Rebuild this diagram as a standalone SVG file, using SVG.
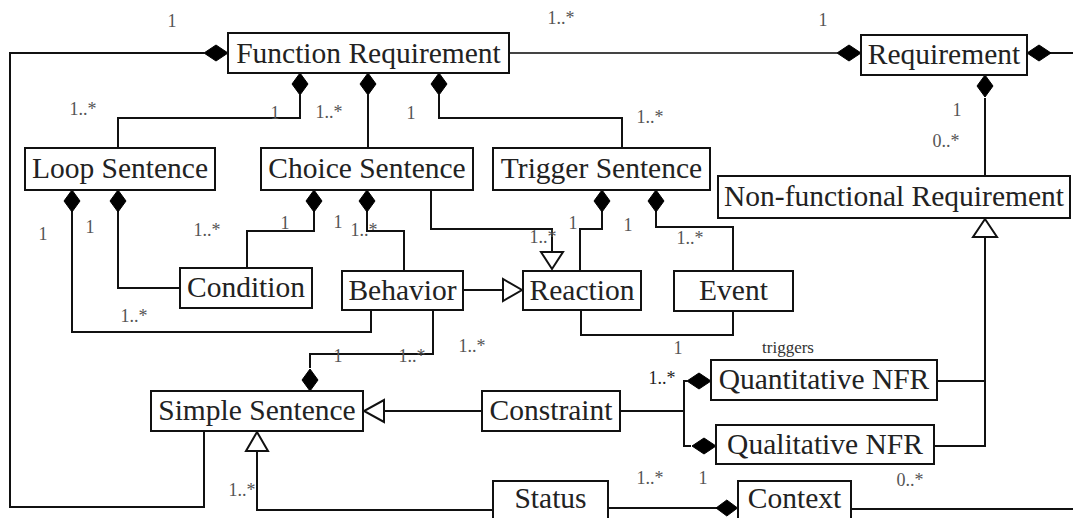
<svg xmlns="http://www.w3.org/2000/svg" width="1073" height="518" viewBox="0 0 1073 518">
<style>
.box{fill:#fff;stroke:#111;stroke-width:2}
.t{font-family:"Liberation Serif","Times New Roman",serif;font-size:29.5px;fill:#222;text-anchor:middle}
.l{font-family:"Liberation Serif","Times New Roman",serif;font-size:18px;fill:#555;text-anchor:middle}
.c{fill:none;stroke:#111;stroke-width:2}
.d{fill:#000;stroke:#000;stroke-width:1}
.h{fill:#fff;stroke:#111;stroke-width:2}
</style>
<defs>
<path id="dv" d="M0,0 L8,11 L0,22 L-8,11 Z"/>
<path id="dh" d="M0,0 L12,-8 L24,0 L12,8 Z"/>
</defs>
<rect width="1073" height="518" fill="#fff"/>
<g id="connectors">
<polyline class="c" points="204,53 10,53 10,507 204,507 204,431"/>
<polyline class="c" points="300,95 300,118 118,118 118,148"/>
<polyline class="c" points="368,95 368,148"/>
<polyline class="c" points="439,95 439,118 622,118 622,148"/>
<polyline class="c" points="509,53 837,53" style="stroke:#444"/>
<polyline class="c" points="1049,53 1073,53"/>
<polyline class="c" points="985,98 985,176"/>
<polyline class="c" points="72,211 72,332 371,332 371,310"/>
<polyline class="c" points="118,211 118,288 180,288"/>
<polyline class="c" points="314,211 314,231 247,231 247,268"/>
<polyline class="c" points="367,211 367,231 404,231 404,271"/>
<polyline class="c" points="431,190 431,229 552,229 552,252"/>
<polyline class="c" points="463,290 503,290"/>
<polyline class="c" points="602,211 602,229 580,229 580,271"/>
<polyline class="c" points="656,211 656,227 733,227 733,271"/>
<polyline class="c" points="581,310 581,335 733,335 733,311"/>
<polyline class="c" points="433,310 433,354 310,354 310,368"/>
<polyline class="c" points="482,411 384,411"/>
<polyline class="c" points="493,510 257,510 257,451"/>
<polyline class="c" points="620,411 684,411"/>
<polyline class="c" points="687,381 684,381 684,446 691,446"/>
<polyline class="c" points="937,381 985,381"/>
<polyline class="c" points="934,446 985,446 985,237"/>
<polyline class="c" points="608,508 718,508"/>
<polyline class="c" points="851,509 1073,509"/>
<use href="#dh" class="d" transform="translate(204,53)"/>
<use href="#dh" class="d" transform="translate(837,53)"/>
<use href="#dh" class="d" transform="translate(1027,53)"/>
<use href="#dh" class="d" transform="translate(687,381)"/>
<use href="#dh" class="d" transform="translate(692,446)"/>
<use href="#dh" class="d" transform="translate(716,508) scale(0.9,1)"/>
<use href="#dv" class="d" transform="translate(300,73)"/>
<use href="#dv" class="d" transform="translate(368,73)"/>
<use href="#dv" class="d" transform="translate(439,73)"/>
<use href="#dv" class="d" transform="translate(985,75)"/>
<use href="#dv" class="d" transform="translate(72,190)"/>
<use href="#dv" class="d" transform="translate(118,190)"/>
<use href="#dv" class="d" transform="translate(314,190)"/>
<use href="#dv" class="d" transform="translate(367,190)"/>
<use href="#dv" class="d" transform="translate(602,190)"/>
<use href="#dv" class="d" transform="translate(656,190)"/>
<use href="#dv" class="d" transform="translate(310,369)"/>
<path class="h" d="M541,252 L563,252 L552,269 Z"/>
<path class="h" d="M503,279 L503,301 L522,290 Z"/>
<path class="h" d="M384,400 L384,422 L364,411 Z"/>
<path class="h" d="M246,451 L268,451 L257,432 Z"/>
<path class="h" d="M973,237 L997,237 L985,219 Z"/>
</g>
<g id="n-function-requirement"><rect class="box" x="228" y="33" width="281" height="40"/><text class="t" x="368.5" y="63">Function Requirement</text></g>
<g id="n-requirement"><rect class="box" x="861" y="35" width="166" height="40"/><text class="t" x="944" y="64">Requirement</text></g>
<g id="n-loop-sentence"><rect class="box" x="25" y="148" width="190" height="42"/><text class="t" x="120" y="178">Loop Sentence</text></g>
<g id="n-choice-sentence"><rect class="box" x="261" y="148" width="212" height="42"/><text class="t" x="367" y="178">Choice Sentence</text></g>
<g id="n-trigger-sentence"><rect class="box" x="493" y="148" width="217" height="42"/><text class="t" x="601.5" y="178">Trigger Sentence</text></g>
<g id="n-nfr"><rect class="box" x="718" y="176" width="352" height="42"/><text class="t" x="894" y="206">Non-functional Requirement</text></g>
<g id="n-condition"><rect class="box" x="180" y="268" width="132" height="40"/><text class="t" x="246" y="297">Condition</text></g>
<g id="n-behavior"><rect class="box" x="342" y="271" width="121" height="39"/><text class="t" x="402.5" y="300">Behavior</text></g>
<g id="n-reaction"><rect class="box" x="523" y="271" width="118" height="39"/><text class="t" x="582" y="300">Reaction</text></g>
<g id="n-event"><rect class="box" x="674" y="271" width="119" height="40"/><text class="t" x="733.5" y="300">Event</text></g>
<g id="n-simple-sentence"><rect class="box" x="151" y="391" width="212" height="40"/><text class="t" x="257" y="420">Simple Sentence</text></g>
<g id="n-constraint"><rect class="box" x="482" y="391" width="138" height="40"/><text class="t" x="551" y="420">Constraint</text></g>
<g id="n-quantitative-nfr"><rect class="box" x="711" y="360" width="226" height="40"/><text class="t" x="824" y="389">Quantitative NFR</text></g>
<g id="n-qualitative-nfr"><rect class="box" x="716" y="425" width="218" height="39"/><text class="t" x="825" y="454">Qualitative NFR</text></g>
<g id="n-status"><rect class="box" x="493" y="481" width="115" height="45"/><text class="t" x="550.5" y="508">Status</text></g>
<g id="n-context"><rect class="box" x="738" y="481" width="113" height="45"/><text class="t" x="794.5" y="508">Context</text></g>
<g id="labels">
<text class="l" x="172" y="27">1</text>
<text class="l" x="83" y="115">1..*</text>
<text class="l" x="275" y="119">1</text>
<text class="l" x="329" y="118">1..*</text>
<text class="l" x="411" y="119">1</text>
<text class="l" x="650" y="123">1..*</text>
<text class="l" x="561" y="24">1..*</text>
<text class="l" x="823" y="26">1</text>
<text class="l" x="957" y="116">1</text>
<text class="l" x="946" y="147">0..*</text>
<text class="l" x="43" y="240">1</text>
<text class="l" x="90" y="233">1</text>
<text class="l" x="207" y="236">1..*</text>
<text class="l" x="285" y="229">1</text>
<text class="l" x="338" y="228">1</text>
<text class="l" x="364" y="236">1..*</text>
<text class="l" x="543" y="243">1..*</text>
<text class="l" x="573" y="229">1</text>
<text class="l" x="628" y="231">1</text>
<text class="l" x="690" y="244">1..*</text>
<text class="l" x="134" y="322">1..*</text>
<text class="l" x="338" y="362">1</text>
<text class="l" x="412" y="362">1..*</text>
<text class="l" x="472" y="352">1..*</text>
<text class="l" x="678" y="354">1</text>
<text class="l" x="788" y="353" style="font-size:17px;fill:#333">triggers</text>
<text class="l" x="662" y="384" style="fill:#222">1..*</text>
<text class="l" x="650" y="484">1..*</text>
<text class="l" x="703" y="484">1</text>
<text class="l" x="910" y="486">0..*</text>
<text class="l" x="242" y="496">1..*</text>
</g>
</svg>
